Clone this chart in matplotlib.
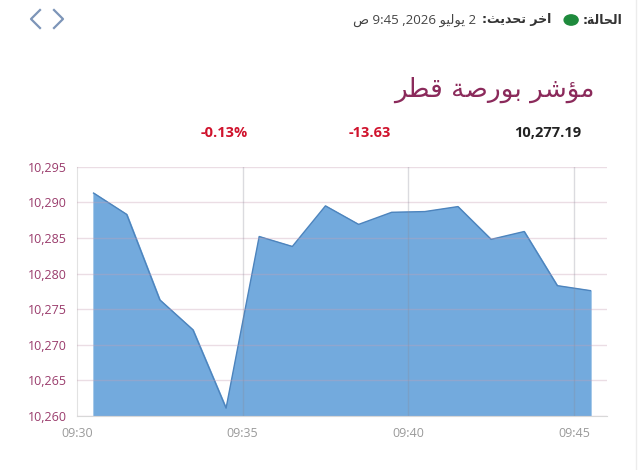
import matplotlib
matplotlib.use("Agg")
import matplotlib.pyplot as plt
from matplotlib.lines import Line2D
from matplotlib.patches import Circle

# minutes after 09:30
minutes = [0.5, 1.5, 2.5, 3.5, 4.5, 5.5, 6.5, 7.5, 8.5, 9.5, 10.5, 11.5, 12.5, 13.5, 14.5, 15.5]
index_values = [10291.3, 10288.3, 10276.3, 10272.1, 10261.1, 10285.2, 10283.8, 10289.5,
                10286.9, 10288.6, 10288.7, 10289.4, 10284.8, 10285.9, 10278.3, 10277.6]
x_ticks = [0, 5, 10, 15]
x_labels = ["09:30", "09:35", "09:40", "09:45"]
y_ticks = [10260, 10265, 10270, 10275, 10280, 10285, 10290, 10295]

last_value = "10,277.19"
change = "-13.63"
change_pct = "-0.13%"

# Arabic text written in visual order with presentation forms (no shaping engine)
title_txt = "\uFEAE\uFEC4\uFED7 \uFE94\uFEBB\uFEAD\uFEEE\uFE91 \uFEAE\uFEB7\uFE86\uFEE3"      # مؤشر بورصة قطر
status_txt = ":\uFE94\uFEDF\uFE8E\uFEA4\uFEDF\uFE8D"                                       # الحالة:
update_txt = ":\uFE9A\uFEF3\uFEAA\uFEA4\uFE97 \uFEAE\uFEA7\uFE8D"                           # اخر تحديث:
date_txt = "\uFEB9 9:45 ,2026 \uFEEE\uFEF4\uFEDF\uFEEE\uFEF3 2"                             # 2 يوليو 2026, 9:45 ص

plt.rcParams['font.family'] = ['Open Sans', 'DejaVu Sans']

W, H = 640, 470
fig = plt.figure(figsize=(6.4, 4.7), dpi=100)

def fx(px):
    return px / W

def fy(py):
    return 1 - py / H

ax = fig.add_axes([fx(77), fy(416), fx(607) - fx(77), fy(166.7) - fy(416)])

ax.fill_between(minutes, index_values, 10260, color='#73aadd', zorder=1)
ax.plot(minutes, index_values, color='#4d84bd', lw=1.0, zorder=2)

ax.set_xlim(0, 16)
ax.set_ylim(10260, 10295)
ax.set_xticks(x_ticks)
ax.set_xticklabels(x_labels)
ax.set_yticks(y_ticks)
ax.set_yticklabels([f"{v:,}" for v in y_ticks])

for y in y_ticks:
    ax.axhline(y, color='#c8a0b4', alpha=0.35, lw=1, zorder=3)
for x in x_ticks[1:]:
    ax.axvline(x, color='#8a8a98', alpha=0.3, lw=1, zorder=3)

for s in ['top', 'right']:
    ax.spines[s].set_visible(False)
ax.spines['left'].set_color('#e2e2e2')
ax.spines['bottom'].set_color('#d8d8d8')
ax.tick_params(axis='both', length=0)
ax.tick_params(axis='y', labelcolor='#9a3c6c', labelsize=9, pad=7)
ax.tick_params(axis='x', labelcolor='#9a9a9a', labelsize=9, pad=8)

# header, laid out right to left
renderer = fig.canvas.get_renderer()

def left_px(t):
    return t.get_window_extent(renderer).x0

status = fig.text(fx(622), fy(20), status_txt, ha='right', va='center', fontsize=9,
                  fontweight='bold', family='DejaVu Sans', color='#333333')
dot_x = left_px(status) - 4 - 7
fig.patches.append(Circle((fx(dot_x), fy(20)), 7 / W, transform=fig.transFigure,
                          color='#1e8a3c'))
update = fig.text(fx(dot_x - 20), fy(20), update_txt, ha='right', va='center', fontsize=9,
                  fontweight='bold', family='DejaVu Sans', color='#333333')
fig.text(fx(left_px(update) - 6), fy(20), date_txt, ha='right', va='center', fontsize=9.5,
         family=['Open Sans', 'DejaVu Sans'], color='#444444')

# chevrons
fig.lines.append(Line2D([fx(40), fx(31), fx(40)], [fy(10), fy(19), fy(28)],
                        transform=fig.transFigure, color='#7d95b8', lw=1.6))
fig.lines.append(Line2D([fx(54), fx(63), fx(54)], [fy(10), fy(19), fy(28)],
                        transform=fig.transFigure, color='#7d95b8', lw=1.6))

# page border
fig.lines.append(Line2D([fx(636), fx(636)], [0, 1], transform=fig.transFigure,
                        color='#ececec', lw=1))

fig.text(fx(595), fy(90), title_txt, ha='right', va='center', fontsize=19,
         family='DejaVu Sans', color='#8b2a5b')

fig.text(fx(581), fy(133), last_value, ha='right', va='center', fontsize=10.5,
         fontweight='bold', color='#222222')
fig.text(fx(391), fy(133), change, ha='right', va='center', fontsize=10.5,
         fontweight='bold', color='#d0132d')
fig.text(fx(248), fy(133), change_pct, ha='right', va='center', fontsize=10.5,
         fontweight='bold', color='#d0132d')

fig.savefig('out.png', dpi=100)
